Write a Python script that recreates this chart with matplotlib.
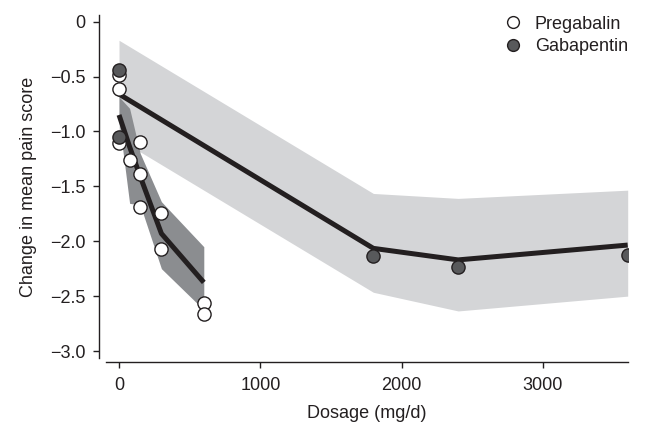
import matplotlib
matplotlib.use('Agg')
import matplotlib.pyplot as plt
from matplotlib.lines import Line2D

plt.rcParams['font.family'] = ['Liberation Sans', 'DejaVu Sans']

# Прегабалин: точки исследований
preg_dose = [0, 0, 0, 75, 150, 150, 150, 300, 300, 600, 600]
preg_score = [-0.49, -0.615, -1.105, -1.26, -1.10, -1.39, -1.685, -1.745, -2.075, -2.56, -2.665]

# Прегабалин: модель и доверительная полоса
preg_fit_dose = [0, 75, 150, 300, 600]
preg_fit = [-0.85, -1.14, -1.41, -1.93, -2.375]
preg_upper = [-0.685, -0.79, -1.20, -1.64, -2.05]
preg_lower = [-0.90, -1.655, -1.67, -2.25, -2.625]

# Габапентин: точки исследований
gaba_dose = [0, 0, 1800, 2400, 3600]
gaba_score = [-0.44, -1.055, -2.135, -2.235, -2.125]

# Габапентин: модель и доверительная полоса
gaba_fit_dose = [0, 1800, 2400, 3600]
gaba_fit = [-0.66, -2.065, -2.17, -2.035]
gaba_upper = [-0.17, -1.565, -1.61, -1.535]
gaba_lower = [-1.07, -2.465, -2.635, -2.50]

x_ticks = [0, 1000, 2000, 3000]
y_ticks = [0, -0.5, -1.0, -1.5, -2.0, -2.5, -3.0]

dark = '#231f20'
light_band = '#d4d5d7'
dark_band = '#8b8d90'
gaba_fill = '#58595b'
fs = 13

fig = plt.figure(figsize=(6.5, 4.23), dpi=100)
ax = fig.add_axes([0.1631, 0.1530, 0.8026, 0.8115])

# Полосы
ax.fill_between(gaba_fit_dose, gaba_lower, gaba_upper, color=light_band, linewidth=0, zorder=1)
ax.fill_between(preg_fit_dose, preg_lower, preg_upper, color=dark_band, linewidth=0, zorder=2)

# Линии модели
ax.plot(gaba_fit_dose, gaba_fit, color=dark, linewidth=3.6, solid_capstyle='butt', zorder=3)
ax.plot(preg_fit_dose, preg_fit, color=dark, linewidth=3.6, solid_capstyle='butt', zorder=3)

# Точки
ax.plot(preg_dose, preg_score, 'o', markersize=9.5, markerfacecolor='white',
        markeredgecolor=dark, markeredgewidth=1.0, zorder=4)
ax.plot(gaba_dose, gaba_score, 'o', markersize=9.5, markerfacecolor=gaba_fill,
        markeredgecolor=dark, markeredgewidth=1.0, zorder=5)

ax.set_xlim(-92, 3600)
ax.set_ylim(-3.066, 0.06)

ax.set_xticks(x_ticks)
ax.set_xticklabels([str(t) for t in x_ticks])
ax.set_yticks(y_ticks)
ax.set_yticklabels(['0' if t == 0 else f'{t:.1f}'.replace('-', '\u2212') for t in y_ticks])

for side in ['top', 'right']:
    ax.spines[side].set_visible(False)
ax.spines['left'].set_position(('outward', 5))
ax.spines['bottom'].set_position(('outward', 3))
for side in ['left', 'bottom']:
    ax.spines[side].set_color(dark)
    ax.spines[side].set_linewidth(1.0)

ax.tick_params(axis='both', direction='out', length=4.5, width=1.0, color=dark,
               labelsize=fs, labelcolor=dark)
ax.tick_params(axis='y', pad=5.5)
ax.tick_params(axis='x', pad=6)

ax.set_xlabel('Dosage (mg/d)', fontsize=fs, color=dark, labelpad=8)
ax.set_ylabel('Change in mean pain score', fontsize=fs, color=dark, labelpad=9)

# Легенда
handles = [
    Line2D([], [], linestyle='none', marker='o', markersize=8.5, markerfacecolor='white',
           markeredgecolor=dark, markeredgewidth=1.0),
    Line2D([], [], linestyle='none', marker='o', markersize=8.5, markerfacecolor=gaba_fill,
           markeredgecolor=dark, markeredgewidth=1.0),
]
ax.legend(handles, ['Pregabalin', 'Gabapentin'], loc='upper left',
          bbox_to_anchor=(0.763, 0.998), frameon=False, fontsize=fs,
          handlelength=1.0, handletextpad=0.7, labelspacing=0.3,
          borderpad=0, borderaxespad=0)
leg = ax.get_legend()
for t in leg.get_texts():
    t.set_color(dark)

fig.savefig('out.png', dpi=100)
